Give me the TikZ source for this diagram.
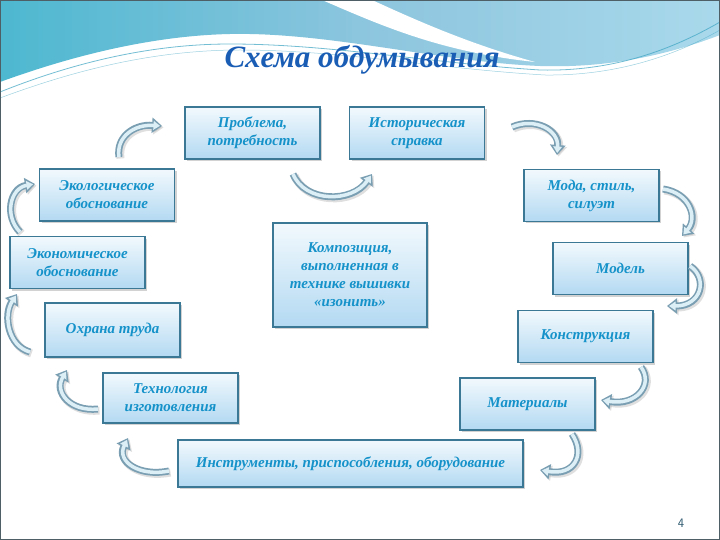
\documentclass[tikz,border=0pt]{standalone}
\usepackage{fontspec}
\setmainfont{Liberation Serif}
\usetikzlibrary{arrows.meta,shadows}
\definecolor{hdrA}{HTML}{4DB8D0}
\definecolor{hdrB}{HTML}{8CC5DE}
\definecolor{hdrC}{HTML}{A9D9EB}
\definecolor{lineC}{HTML}{3AA3C2}
\definecolor{frameC}{HTML}{4F5F66}
\definecolor{titleC}{HTML}{1A5DB5}
\definecolor{boxBorder}{HTML}{3B7896}
\definecolor{boxTop}{HTML}{F2F9FD}
\definecolor{boxBot}{HTML}{B3D9F2}
\definecolor{txtC}{HTML}{1592C9}
\definecolor{arrOut}{HTML}{7A9FB3}
\definecolor{arrIn}{HTML}{DCEEF6}
\definecolor{numC}{HTML}{2E5A70}
\tikzset{
  box/.style={draw=boxBorder, line width=1.1pt, top color=boxTop, bottom color=boxBot,
    minimum width=135pt, minimum height=52pt, align=center, inner sep=2pt,
    text=txtC, font=\fontsize{15}{18}\selectfont\itshape\bfseries,
    drop shadow={shadow xshift=2pt, shadow yshift=-2pt, opacity=0.35}},
  carrow/.style={draw=arrOut, line width=7pt, -{Triangle[length=10pt,width=15pt]},
    preaction={draw=gray, opacity=0.25, line width=8pt, transform canvas={shift={(1.5pt,-1.5pt)}}},
    postaction={draw=arrIn, line width=3.5pt, -{Triangle[length=6.5pt,width=8.5pt]}, shorten >=2pt}}
}
\begin{document}
\begin{tikzpicture}[x=1pt,y=-1pt]
\useasboundingbox (0,0) rectangle (720,540);
\fill[white] (0,0) rectangle (720,540);
% header
\shade[left color=hdrA, right color=hdrC, middle color=hdrB]
  (0,0) -- (720,0) -- (720,35) .. controls (660,58) and (600,68) .. (540,66)
  .. controls (440,62) and (330,32) .. (230,34) .. controls (140,36) and (55,62) .. (0,82) -- cycle;
\fill[white] (322,0) .. controls (380,25) and (440,52) .. (535,62)
  .. controls (470,44) and (420,22) .. (372,0) -- cycle;
\draw[lineC, line width=0.8pt, opacity=0.7] (0,92) .. controls (60,68) and (140,44) .. (230,44)
  .. controls (330,44) and (430,63) .. (540,70) .. controls (620,72) and (680,45) .. (720,22);
\draw[lineC, line width=0.5pt, opacity=0.5] (0,98) .. controls (70,72) and (150,50) .. (240,50)
  .. controls (340,50) and (440,69) .. (545,75) .. controls (625,76) and (685,50) .. (720,30);
\draw[frameC, line width=2pt] (0,0) rectangle (720,540);
% title
\node (title) at (362,60) {\fontsize{31}{34}\selectfont\bfseries\itshape\color{titleC}Схема обдумывания};
% boxes
\node[box] (prob) at (252.5,133) {Проблема,\\потребность};
\node[box] (ist) at (417,133) {Историческая\\справка};
\node[box] (ekol) at (107,195) {Экологическое\\обоснование};
\node[box] (ekon) at (77.5,262.5) {Экономическое\\обоснование};
\node[box, minimum height=54pt] (ohr) at (112.5,330) {Охрана труда};
\node[box] (moda) at (591.5,195.5) {Мода, стиль,\\силуэт};
\node[box] (model) at (620.5,268.5) {Модель};
\node[box] (konstr) at (585.5,336.5) {Конструкция};
\node[box, minimum width=154pt, minimum height=104pt] (komp) at (350,275) {Композиция,\\выполненная в\\технике вышивки\\«изонить»};
\node[box, minimum height=50pt] (tech) at (170.5,398) {Технология\\изготовления};
\node[box] (mat) at (527.5,404) {Материалы};
\node[box, minimum width=345pt, minimum height=47pt] (instr) at (350.5,463.5) {Инструменты, приспособления, оборудование};
% arrows
\coordinate (a1s) at (119,157); \coordinate (a1e) at (162,126);
\coordinate (a2s) at (293,174); \coordinate (a2e) at (372,174);
\coordinate (a3s) at (512,127); \coordinate (a3e) at (557,155);
\coordinate (a4s) at (663,189); \coordinate (a4e) at (682,236);
\coordinate (a5s) at (690,266); \coordinate (a5e) at (667,306);
\coordinate (a6s) at (641,367); \coordinate (a6e) at (601,400);
\coordinate (a7s) at (572,434); \coordinate (a7e) at (540,470);
\coordinate (a8s) at (169,471); \coordinate (a8e) at (128,438);
\coordinate (a9s) at (98,409); \coordinate (a9e) at (67,370);
\coordinate (a10s) at (30,352); \coordinate (a10e) at (17,294);
\coordinate (a11s) at (20,232); \coordinate (a11e) at (35,184);
\draw[carrow] (a1s) .. controls (116,137) and (134,124) .. (a1e);
\draw[carrow] (a2s) .. controls (305,203) and (352,203) .. (a2e);
\draw[carrow] (a3s) .. controls (535,117) and (559,130) .. (a3e);
\draw[carrow] (a4s) .. controls (690,193) and (698,218) .. (a4e);
\draw[carrow] (a5s) .. controls (708,278) and (702,306) .. (a5e);
\draw[carrow] (a6s) .. controls (654,385) and (636,406) .. (a6e);
\draw[carrow] (a7s) .. controls (586,455) and (574,476) .. (a7e);
\draw[carrow] (a8s) .. controls (140,477) and (116,462) .. (a8e);
\draw[carrow] (a9s) .. controls (70,412) and (54,392) .. (a9e);
\draw[carrow] (a10s) .. controls (8,346) and (3,315) .. (a10e);
\draw[carrow] (a11s) .. controls (4,216) and (10,188) .. (a11e);
% page number
\node[font=\sffamily\fontsize{13}{15}\selectfont, text=numC] (num) at (681,523) {4};
\end{tikzpicture}
\end{document}
